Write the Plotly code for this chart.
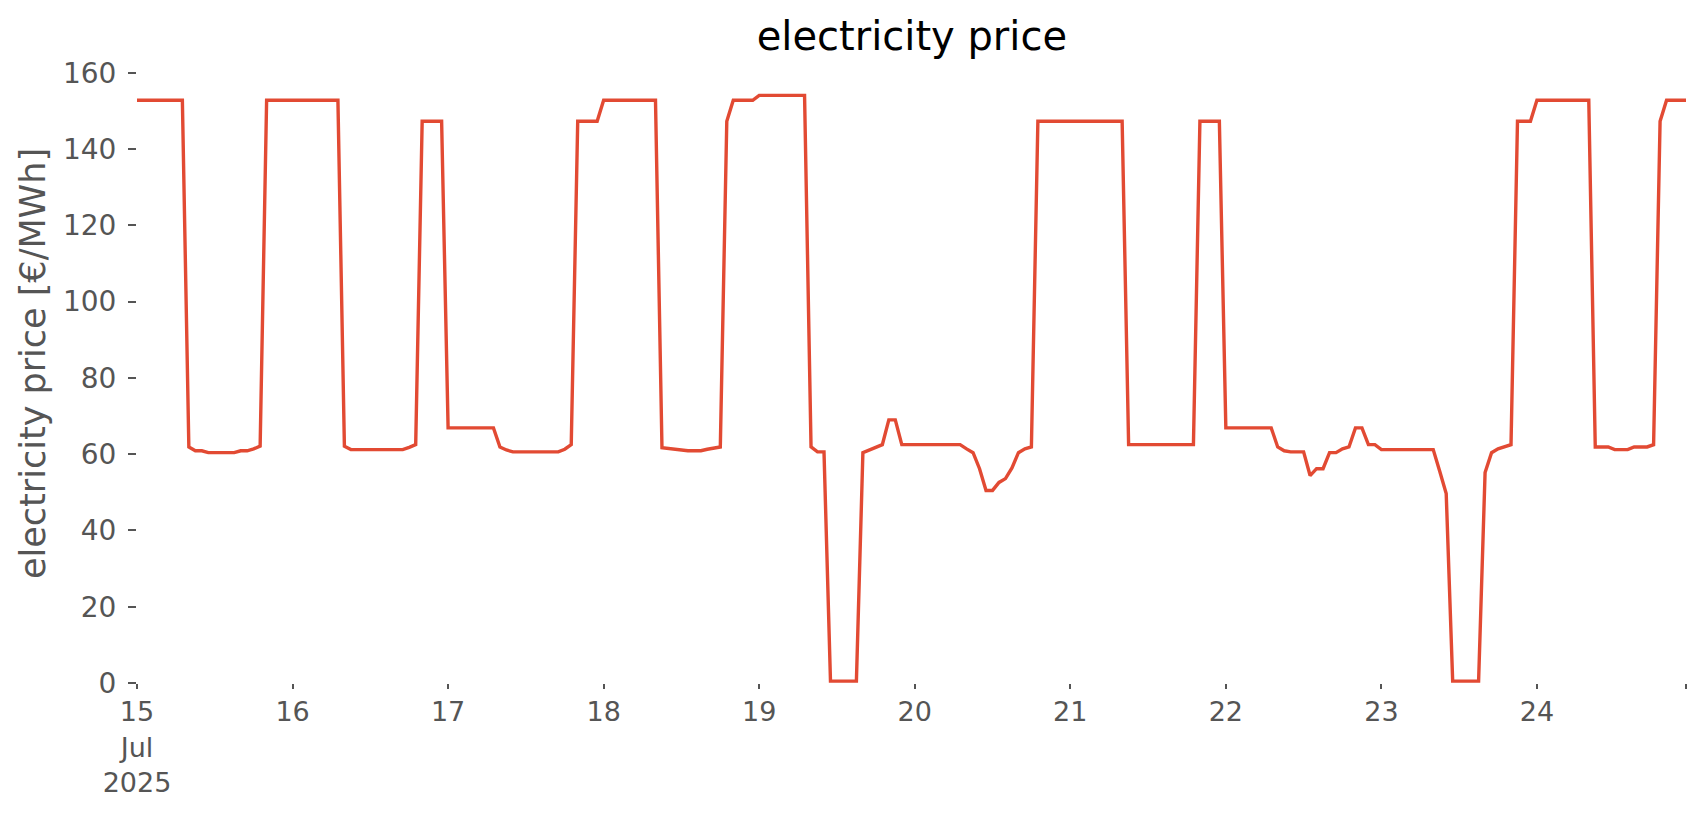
import pandas as pd
import plotly.graph_objects as go

# hourly day-ahead price, 15-24 Jul 2025 [€/MWh]
day_15 = [152.8, 152.8, 152.8, 152.8, 152.8, 152.8, 152.8, 152.8, 61.9, 60.9, 60.9, 60.4,
          60.4, 60.4, 60.4, 60.4, 60.9, 60.9, 61.4, 62.1, 152.8, 152.8, 152.8, 152.8]
day_16 = [152.8, 152.8, 152.8, 152.8, 152.8, 152.8, 152.8, 152.8, 62.1, 61.2, 61.2, 61.2,
          61.2, 61.2, 61.2, 61.2, 61.2, 61.2, 61.8, 62.5, 147.3, 147.3, 147.3, 147.3]
day_17 = [66.9, 66.9, 66.9, 66.9, 66.9, 66.9, 66.9, 66.9, 61.9, 61.1, 60.6, 60.6,
          60.6, 60.6, 60.6, 60.6, 60.6, 60.6, 61.3, 62.5, 147.3, 147.3, 147.3, 147.3]
day_18 = [152.8, 152.8, 152.8, 152.8, 152.8, 152.8, 152.8, 152.8, 152.8, 61.7, 61.5, 61.2,
          60.9, 60.9, 60.9, 60.9, 61.3, 61.6, 61.9, 147.3, 152.8, 152.8, 152.8, 152.8]
day_19 = [154.1, 154.1, 154.1, 154.1, 154.1, 154.1, 154.1, 154.1, 61.9, 60.6, 60.6, 0.5,
          0.5, 0.5, 0.5, 0.5, 60.4, 61.1, 61.9, 62.5, 69.0, 69.0, 62.5, 62.5]
day_20 = [62.5, 62.5, 62.5, 62.5, 62.5, 62.5, 62.5, 62.5, 61.4, 60.4, 56.2, 50.5,
          50.5, 52.6, 53.6, 56.4, 60.4, 61.4, 61.9, 147.3, 147.3, 147.3, 147.3, 147.3]
day_21 = [147.3, 147.3, 147.3, 147.3, 147.3, 147.3, 147.3, 147.3, 147.3, 62.5, 62.5, 62.5,
          62.5, 62.5, 62.5, 62.5, 62.5, 62.5, 62.5, 62.5, 147.3, 147.3, 147.3, 147.3]
day_22 = [66.9, 66.9, 66.9, 66.9, 66.9, 66.9, 66.9, 66.9, 61.9, 60.9, 60.6, 60.6,
          60.6, 54.4, 56.2, 56.2, 60.4, 60.4, 61.4, 61.9, 66.9, 66.9, 62.5, 62.5]
day_23 = [61.2, 61.2, 61.2, 61.2, 61.2, 61.2, 61.2, 61.2, 61.2, 55.5, 49.7, 0.5,
          0.5, 0.5, 0.5, 0.5, 55.2, 60.4, 61.4, 61.9, 62.5, 147.3, 147.3, 147.3]
day_24 = [152.8, 152.8, 152.8, 152.8, 152.8, 152.8, 152.8, 152.8, 152.8, 61.9, 61.9, 61.9,
          61.2, 61.2, 61.2, 61.9, 61.9, 61.9, 62.5, 147.3, 152.8, 152.8, 152.8, 152.8]

prices = day_15 + day_16 + day_17 + day_18 + day_19 + day_20 + day_21 + day_22 + day_23 + day_24
times = pd.date_range("2025-07-15 00:00", periods=len(prices), freq="h")

tick_days = ["2025-07-15", "2025-07-16", "2025-07-17", "2025-07-18", "2025-07-19",
             "2025-07-20", "2025-07-21", "2025-07-22", "2025-07-23", "2025-07-24"]
tick_text = ["15<br>Jul<br>2025", "16", "17", "18", "19", "20", "21", "22", "23", "24"]

grey = "#555555"
font = "DejaVu Sans"

fig = go.Figure()
fig.add_trace(go.Scatter(x=times, y=prices, mode="lines",
                         line=dict(color="#E24A33", width=3.4),
                         showlegend=False))

fig.update_layout(
    width=1706, height=815,
    margin=dict(l=137, r=20, t=66, b=132),
    plot_bgcolor="white", paper_bgcolor="white",
    font=dict(family=font, color=grey, size=27),
    title=dict(text="electricity price", x=0.5345, xanchor="center",
               y=0.939, yanchor="bottom",
               font=dict(family=font, size=40, color="black")),
    annotations=[dict(text="electricity price [€/MWh]", textangle=-90,
                      xref="paper", yref="paper", x=-0.0668, y=0.518,
                      xanchor="center", yanchor="middle", showarrow=False,
                      font=dict(family=font, size=35, color=grey))],
)
fig.update_xaxes(range=[times[0], times[-1]],
                 tickvals=list(pd.to_datetime(tick_days)) + [times[-1]],
                 ticktext=tick_text + [""],
                 ticks="outside", ticklen=5, tickwidth=1.5, tickcolor=grey,
                 showgrid=False, zeroline=False, showline=False,
                 tickfont=dict(family=font, size=27, color=grey))
fig.update_yaxes(range=[0, 161.8], tickvals=[0, 20, 40, 60, 80, 100, 120, 140, 160],
                 ticks="outside", ticklen=8, tickwidth=1.5, tickcolor=grey,
                 showgrid=False, zeroline=False, showline=False,
                 ticklabelstandoff=6,
                 tickfont=dict(family=font, size=28, color=grey))

fig.write_html("out.html", config={"displayModeBar": False},
               post_script="document.body.style.margin='0';")
